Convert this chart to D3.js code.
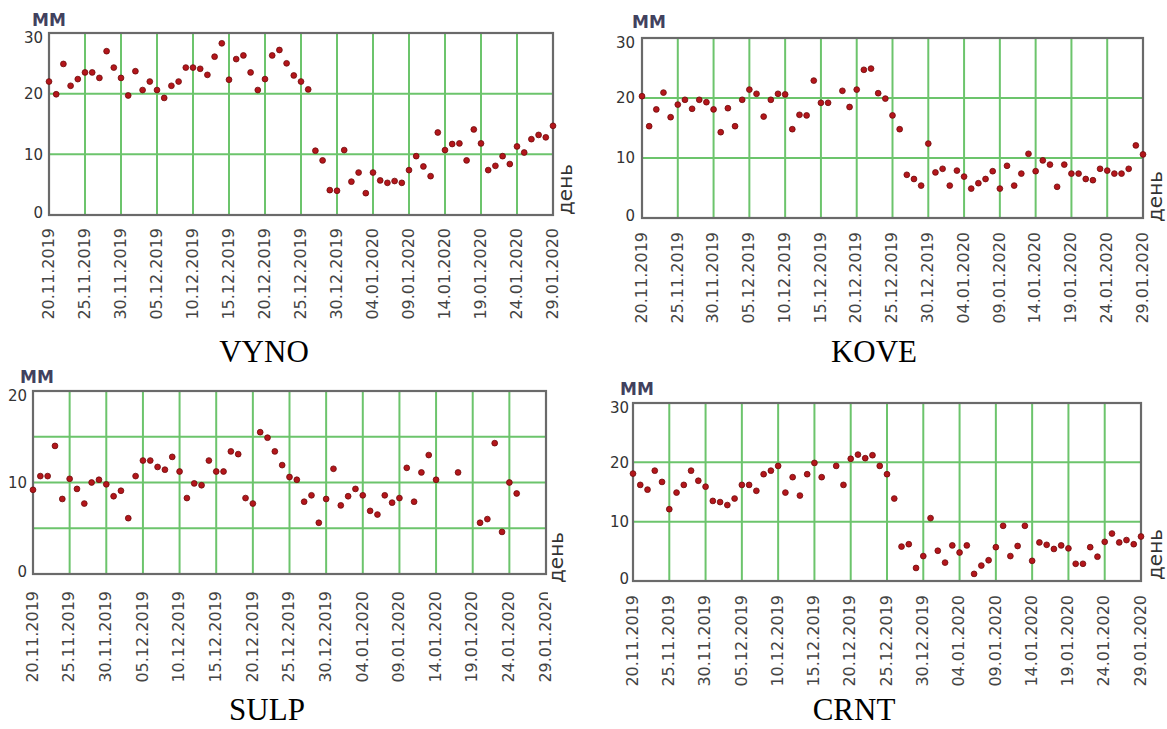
<!DOCTYPE html>
<html><head><meta charset="utf-8">
<script src="https://cdn.jsdelivr.net/npm/d3@7"></script>
<style>html,body{margin:0;padding:0;background:#fff;} svg{display:block;}</style>
</head><body>
<svg id="c" width="1167" height="729"></svg>
<script>
// ---- data ----
const tickLabels = ["20.11.2019","25.11.2019","30.11.2019","05.12.2019","10.12.2019","15.12.2019","20.12.2019","25.12.2019","30.12.2019","04.01.2020","09.01.2020","14.01.2020","19.01.2020","24.01.2020","29.01.2020"];
const stationNames = ["VYNO","KOVE","SULP","CRNT"];
const yUnit = "ММ";
const xUnit = "день";

// daily values from 20.11.2019 to 29.01.2020 (null = no measurement)
const vyno = [22.0,19.9,24.9,21.3,22.4,23.5,23.5,22.6,27.0,24.3,22.6,19.7,23.7,20.6,22.0,20.6,19.3,21.3,22.0,24.3,
  24.3,24.1,23.1,26.1,28.3,22.3,25.7,26.3,23.5,20.6,22.4,26.3,27.2,25.0,23.0,22.0,20.7,10.6,9.0,4.1,
  4.0,10.7,5.5,7.0,3.6,7.0,5.7,5.3,5.6,5.3,7.4,9.7,8.0,6.4,13.6,10.7,11.7,11.8,9.0,14.1,
  11.8,7.4,8.1,9.7,8.4,11.3,10.3,12.5,13.2,12.8,14.7];
const kove = [20.3,15.3,18.1,20.9,16.8,18.9,19.7,18.2,19.7,19.3,18.1,14.3,18.3,15.3,19.7,21.4,20.7,16.9,19.7,20.7,
  20.6,14.8,17.2,17.1,22.9,19.2,19.2,null,21.2,18.5,21.4,24.7,24.9,20.8,19.9,17.1,14.8,7.2,6.5,5.4,
  12.4,7.6,8.2,5.4,7.9,6.9,4.9,5.8,6.5,7.8,4.9,8.7,5.4,7.4,10.7,7.8,9.6,8.9,5.2,8.9,
  7.4,7.4,6.5,6.3,8.2,7.9,7.4,7.4,8.2,12.1,10.6];
const sulp = [9.2,10.7,10.7,14.0,8.2,10.4,9.3,7.7,10.0,10.3,9.8,8.5,9.1,6.1,10.7,12.4,12.4,11.7,11.4,12.8,
  11.2,8.3,9.9,9.7,12.4,11.2,11.2,13.4,13.1,8.3,7.7,15.5,14.9,13.4,11.9,10.6,10.3,7.9,8.6,5.6,
  8.2,11.5,7.5,8.5,9.3,8.6,6.9,6.5,8.6,7.8,8.3,11.6,7.9,11.1,13.0,10.3,null,null,11.1,null,
  null,5.6,6.0,14.3,4.6,10.0,8.8,null,null,null,null];
const crnt = [18.1,16.2,15.4,18.6,16.7,12.1,14.9,16.2,18.6,16.9,15.9,13.5,13.3,12.8,13.9,16.2,16.2,15.2,18.0,18.6,
  19.4,14.9,17.5,14.4,18.0,19.9,17.5,null,19.4,16.2,20.6,21.3,20.7,21.2,19.4,18.0,13.9,5.8,6.2,2.2,
  4.2,10.6,5.1,3.1,6.0,4.8,6.0,1.2,2.6,3.5,5.7,9.3,4.2,5.9,9.3,3.4,6.5,6.1,5.4,6.0,
  5.5,2.9,2.9,5.7,4.1,6.6,8.0,6.5,6.9,6.2,7.5];
const seriesValues = [vyno, kove, sulp, crnt];

// ---- layout ----
const parse = d3.timeParse("%d.%m.%Y");
const tickDates = tickLabels.map(parse);
const days = d3.timeDay.range(tickDates[0], d3.timeDay.offset(tickDates[tickDates.length-1], 1));

const layout = [
  {left:49,  right:553,  top:33,  bottom:215, ymax:30, grid:[10,20],   ticks:[0,10,20,30], title:[264,362], unit:[32,26],  dayX:572,  dayY:215, gap:13, ylx:-6},
  {left:642, right:1143, top:38,  bottom:218, ymax:30, grid:[10,20],   ticks:[0,10,20,30], title:[874,362], unit:[632,28], dayX:1162, dayY:222, gap:14, ylx:-7},
  {left:33,  right:546,  top:391, bottom:574, ymax:20, grid:[5,10,15], ticks:[0,10,20],    title:[267,720], unit:[20,383], dayX:563,  dayY:583, gap:17, ylx:-6},
  {left:633, right:1141, top:403, bottom:581, ymax:30, grid:[10,20],   ticks:[0,10,20,30], title:[854,720], unit:[620,395], dayX:1162, dayY:580, gap:14, ylx:-4}
];

const svg = d3.select("#c");
svg.append("rect").attr("width",1167).attr("height",729).attr("fill","#fff");

const defs = svg.append("defs");
defs.append("clipPath").attr("id","sulpclip").append("path").attr("d","M0,0H548V600H1167V729H0Z");

stationNames.forEach((name, i) => {
  const L = layout[i];
  const vals = seriesValues[i];
  const x = d3.scaleTime().domain([tickDates[0], tickDates[tickDates.length-1]]).range([L.left, L.right]);
  const y = d3.scaleLinear().domain([0, L.ymax]).range([L.bottom, L.top]);
  const g = svg.append("g");

  // grid
  g.selectAll(".vg").data(tickDates.slice(1, -1)).enter().append("line")
    .attr("x1", d => x(d)).attr("x2", d => x(d))
    .attr("y1", L.top).attr("y2", L.bottom)
    .attr("stroke", "#6cc46c").attr("stroke-width", 2);
  g.selectAll(".hg").data(L.grid).enter().append("line")
    .attr("x1", L.left).attr("x2", L.right)
    .attr("y1", d => y(d)).attr("y2", d => y(d))
    .attr("stroke", "#6cc46c").attr("stroke-width", 2);

  // border
  g.append("rect").attr("x", L.left).attr("y", L.top)
    .attr("width", L.right - L.left).attr("height", L.bottom - L.top)
    .attr("fill", "none").attr("stroke", "#6a6a6a").attr("stroke-width", 2.2);

  // y tick labels
  g.selectAll(".yl").data(L.ticks).enter().append("text")
    .attr("x", L.left + L.ylx)
    .attr("y", d => y(d) + (d === L.ymax ? 5 : (d === 0 ? -2 : 0)))
    .attr("dy", "0.36em")
    .attr("text-anchor", "end")
    .attr("font-family", "DejaVu Sans, sans-serif").attr("font-size", 15)
    .attr("fill", "#333").text(d => d);

  // x tick labels (rotated)
  const lg = g.append("g");
  if (name === "SULP") lg.attr("clip-path", "url(#sulpclip)");
  lg.selectAll(".xl").data(tickDates).enter().append("text")
    .attr("transform", d => `translate(${x(d) - 1},${L.bottom + L.gap}) rotate(-90)`)
    .attr("dy", "0.36em")
    .attr("text-anchor", "end")
    .attr("font-family", "DejaVu Sans, sans-serif").attr("font-size", 16)
    .attr("fill", "#444")
    .text((d, j) => tickLabels[j]);

  // unit labels
  g.append("text").attr("x", L.unit[0]).attr("y", L.unit[1])
    .attr("font-family", "DejaVu Sans, sans-serif").attr("font-size", 17).attr("font-weight", "bold")
    .attr("fill", "#41415e").text(yUnit);
  g.append("text")
    .attr("transform", `translate(${L.dayX},${L.dayY}) rotate(-90)`)
    .attr("font-family", "DejaVu Sans, sans-serif").attr("font-size", 20)
    .attr("fill", "#333").text(xUnit);

  // points
  const pts = days.map((d, j) => ({d, v: vals[j]})).filter(p => p.v !== null && p.v !== undefined);
  g.selectAll(".pt").data(pts).enter().append("circle")
    .attr("cx", p => x(p.d)).attr("cy", p => y(p.v)).attr("r", 2.9)
    .attr("fill", "#b3161b").attr("stroke", "#6e0a0a").attr("stroke-width", 0.8);

  // title
  svg.append("text").attr("x", L.title[0]).attr("y", L.title[1])
    .attr("text-anchor", "middle")
    .attr("font-family", "Liberation Serif, Times New Roman, serif").attr("font-size", 31)
    .attr("fill", "#000").text(name);
});
</script>
</body></html>
